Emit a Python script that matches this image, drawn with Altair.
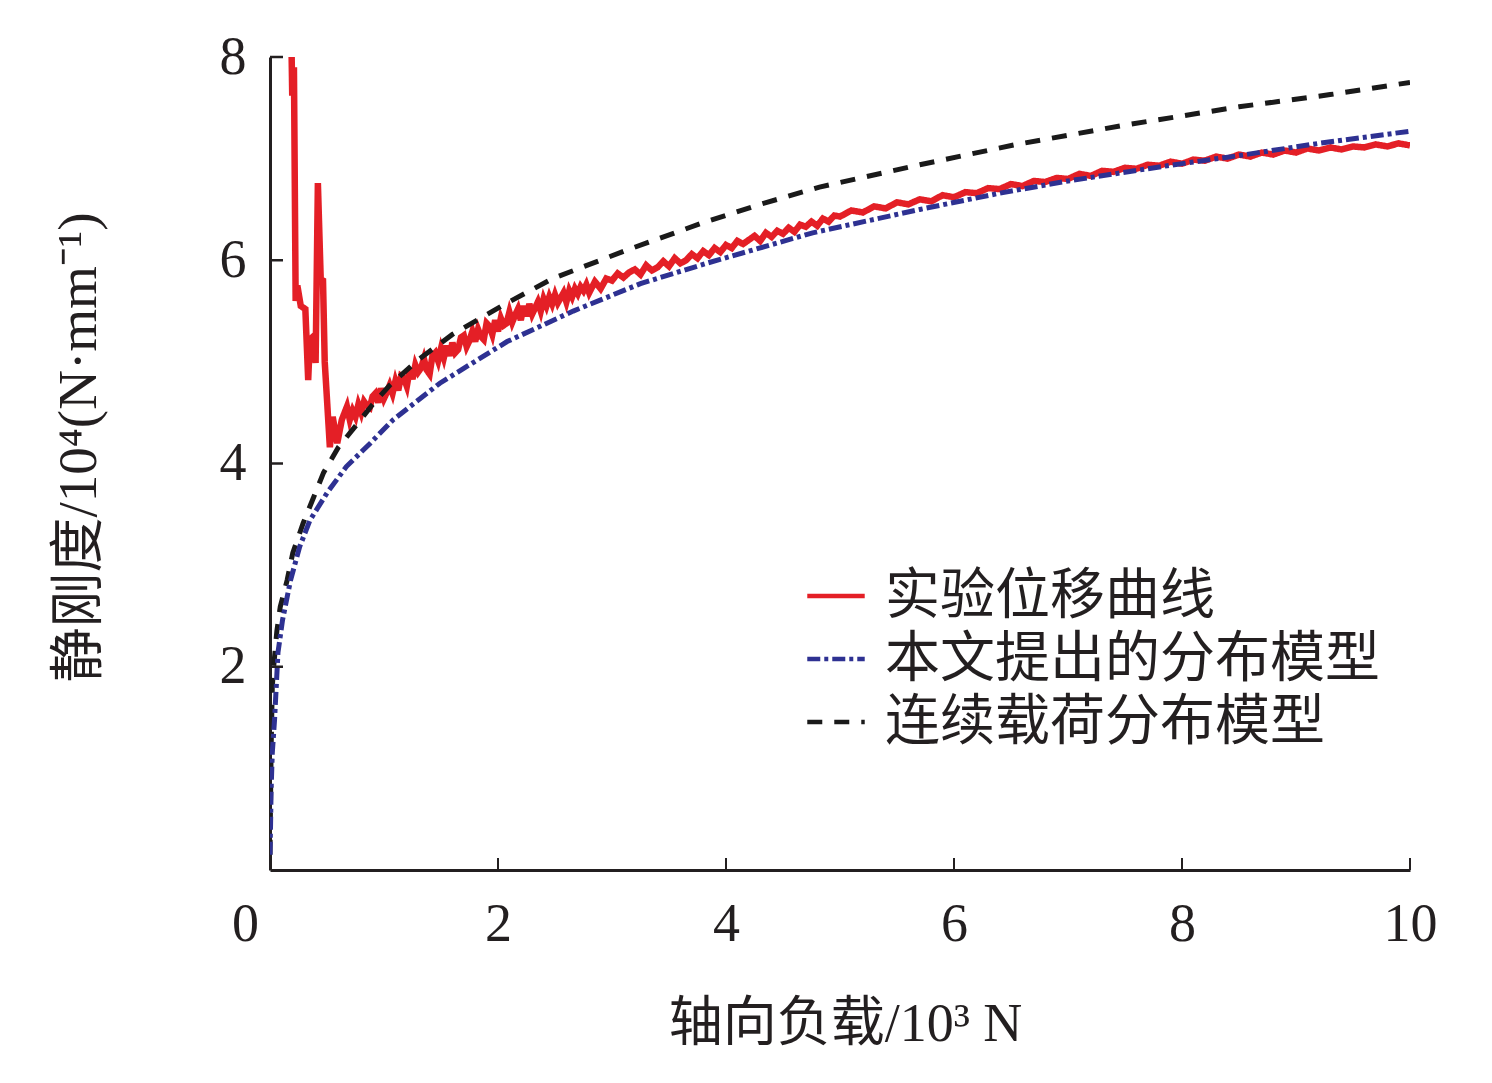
import altair as alt
import pandas as pd

# ---- data ----
series_names = ["实验位移曲线", "本文提出的分布模型", "连续载荷分布模型"]

# experimental curve (noisy)
exp_x = [0.19, 0.195, 0.21, 0.225, 0.24, 0.27, 0.31, 0.335, 0.35, 0.38, 0.40, 0.42, 0.445, 0.465, 0.48, 0.50, 0.525, 0.55, 0.59, 0.63, 0.675,
         0.700, 0.725, 0.750, 0.775, 0.800, 0.825, 0.850, 0.875, 0.900, 0.925, 0.950, 0.975, 1.000, 1.025, 1.050, 1.075,
         1.100, 1.125, 1.150, 1.175, 1.200, 1.225, 1.250, 1.275, 1.300, 1.325, 1.350, 1.375, 1.400, 1.425, 1.450, 1.475,
         1.500, 1.525, 1.550, 1.575, 1.600, 1.625, 1.650, 1.675, 1.700, 1.725, 1.750, 1.775, 1.800, 1.825, 1.850, 1.875,
         1.900, 1.925, 1.950, 1.975, 2.000, 2.025, 2.050, 2.075, 2.100, 2.125, 2.150, 2.175, 2.200, 2.225, 2.250, 2.275,
         2.300, 2.325, 2.350, 2.375, 2.400, 2.425, 2.450, 2.475, 2.500, 2.525, 2.550, 2.575, 2.600, 2.625, 2.650, 2.675,
         2.700, 2.725, 2.750, 2.775, 2.800, 2.850, 2.900, 2.950, 3.000,
         3.05, 3.10, 3.15, 3.20, 3.25, 3.30, 3.35, 3.40, 3.45, 3.50, 3.55, 3.60, 3.65, 3.70, 3.75, 3.80, 3.85, 3.90, 3.95, 4.00,
         4.05, 4.10, 4.15, 4.20, 4.25, 4.30, 4.35, 4.40, 4.45, 4.50, 4.55, 4.60, 4.65, 4.70, 4.75, 4.80, 4.85, 4.90, 4.95, 5.00,
         5.10, 5.20, 5.30, 5.40, 5.50, 5.60, 5.70, 5.80, 5.90, 6.00, 6.10, 6.20, 6.30, 6.40,
         6.50, 6.60, 6.70, 6.80, 6.90, 7.00, 7.10, 7.20, 7.30, 7.40, 7.50, 7.60, 7.70, 7.80, 7.90, 8.00, 8.10, 8.20, 8.30, 8.40,
         8.50, 8.60, 8.70, 8.80, 8.90, 9.00, 9.10, 9.20, 9.30, 9.40, 9.50, 9.60, 9.70, 9.80, 9.90, 10.00]
exp_y = [8.00, 7.62, 7.90, 5.60, 5.75, 5.55, 5.52, 4.82, 5.22, 5.25, 4.99, 6.76, 5.81, 5.80, 5.00, 4.63, 4.16, 4.46, 4.20, 4.43, 4.56,
         4.43, 4.52, 4.46, 4.58, 4.50, 4.61, 4.57, 4.55, 4.66, 4.69, 4.60, 4.74, 4.64, 4.70, 4.77, 4.69,
         4.81, 4.72, 4.86, 4.84, 4.76, 4.92, 4.83, 4.97, 4.90, 4.94, 5.03, 4.92, 4.88, 5.06, 5.09, 5.01,
         5.13, 5.04, 5.16, 5.06, 5.19, 5.09, 5.12, 5.24, 5.26, 5.15, 5.21, 5.30, 5.20, 5.32, 5.25, 5.22,
         5.38, 5.35, 5.27, 5.41, 5.30, 5.43, 5.36, 5.38, 5.49, 5.39, 5.46, 5.52, 5.41, 5.55, 5.45, 5.57,
         5.47, 5.53, 5.59, 5.50, 5.62, 5.55, 5.64, 5.57, 5.66, 5.58, 5.63, 5.68, 5.59, 5.70, 5.64, 5.72,
         5.67, 5.74, 5.70, 5.76, 5.68, 5.79, 5.72, 5.82, 5.80,
         5.87, 5.83, 5.88, 5.91, 5.86, 5.95, 5.90, 5.93, 5.99, 5.94, 6.02, 5.97, 6.00, 6.06, 6.02, 6.09, 6.05, 6.12, 6.08, 6.15,
         6.12, 6.19, 6.16, 6.20, 6.24, 6.19, 6.27, 6.23, 6.29, 6.26, 6.32, 6.28, 6.35, 6.33, 6.38, 6.34, 6.41, 6.38, 6.44, 6.43,
         6.49, 6.47, 6.53, 6.51, 6.57, 6.55, 6.60, 6.58, 6.64, 6.62, 6.67, 6.66, 6.71, 6.70,
         6.75, 6.73, 6.78, 6.77, 6.81, 6.80, 6.85, 6.83, 6.88, 6.87, 6.91, 6.90, 6.94, 6.93, 6.97, 6.95, 6.99, 6.98, 7.02, 7.00,
         7.04, 7.02, 7.06, 7.04, 7.08, 7.06, 7.10, 7.08, 7.11, 7.09, 7.12, 7.11, 7.14, 7.12, 7.15, 7.13]

# proposed distribution model
prop_x = [0.0, 0.005, 0.01, 0.02, 0.04, 0.07, 0.11, 0.18, 0.26, 0.35, 0.50, 0.67, 0.88, 1.08, 1.49, 2.08, 2.66, 3.25, 3.83,
          4.76, 5.70, 6.40, 7.00, 7.87, 8.50, 9.20, 10.0]
prop_y = [0.15, 0.45, 0.80, 1.15, 1.48, 2.14, 2.46, 2.85, 3.18, 3.44, 3.71, 3.97, 4.20, 4.43, 4.79, 5.20, 5.50, 5.77, 5.97,
          6.27, 6.50, 6.66, 6.78, 6.93, 7.03, 7.15, 7.27]

# continuous load distribution model
cont_x = [0.0, 0.005, 0.01, 0.02, 0.03, 0.06, 0.09, 0.15, 0.20, 0.29, 0.38, 0.47, 0.60, 0.73, 0.90, 1.05, 1.30, 1.60, 2.08,
          2.48, 3.13, 3.80, 4.30, 4.82, 5.70, 6.55, 7.50, 8.50, 9.30, 10.0]
cont_y = [0.15, 0.70, 1.20, 1.80, 1.97, 2.35, 2.59, 2.85, 3.12, 3.41, 3.66, 3.91, 4.16, 4.34, 4.58, 4.77, 5.02, 5.27, 5.58,
          5.82, 6.10, 6.37, 6.55, 6.72, 6.94, 7.14, 7.33, 7.51, 7.63, 7.75]

x_labels = [0, 2, 4, 6, 8, 10]
x_ticks = [2, 4, 6, 8, 10]
y_ticks = [2, 4, 6, 8]

x_title = "轴向负载/10³ N"
y_title = "静刚度/10⁴(N·mm⁻¹)"

# ---- build table ----
rows = []
for xs, ys, name in [(exp_x, exp_y, series_names[0]), (prop_x, prop_y, series_names[1]), (cont_x, cont_y, series_names[2])]:
    for i, (a, b) in enumerate(zip(xs, ys)):
        rows.append({"x": a, "y": b, "s": name, "i": i})
df = pd.DataFrame(rows)

W, H = 1140, 813
FONT = "Liberation Serif, Noto Sans CJK SC"
INK = "#231f20"

xscale = alt.Scale(domain=[0, 10], nice=False, zero=False)
yscale = alt.Scale(domain=[0, 8], nice=False, zero=False)

legend_kw = dict(orient="none", legendX=535, legendY=508, symbolType="stroke",
                 symbolSize=3300, symbolStrokeWidth=4.5, labelFontSize=55,
                 labelFont=FONT, labelColor=INK, labelOffset=18, rowPadding=4,
                 labelLimit=800)
color = alt.Color("s:N", title=None,
                  scale=alt.Scale(domain=series_names, range=["#e41f26", "#2e3192", "#1a1a1a"]),
                  legend=alt.Legend(**legend_kw))
dash = alt.StrokeDash("s:N", title=None,
                      scale=alt.Scale(domain=series_names, range=[[1, 0], [13, 4, 4, 4], [15, 12]]),
                      legend=alt.Legend(**legend_kw))

xaxis = alt.Axis(values=x_labels, ticks=False, grid=False, labelFontSize=54, labelFont=FONT,
                 labelColor=INK, labelPadding=27, labelFlush=False, domainColor=INK, domainWidth=3,
                 labelOffset=alt.condition("datum.value == 0", alt.value(-25), alt.value(0)),
                 title=x_title, titleFontSize=54, titleFont=FONT, titleFontWeight="normal", titleColor=INK,
                 titleX=575, titleY=170, titleBaseline="alphabetic")
yaxis = alt.Axis(values=y_ticks, ticks=False, grid=False, labelFontSize=54, labelFont=FONT,
                 labelColor=INK, labelPadding=24, labelFlush=False, domainColor=INK, domainWidth=3,
                 title=y_title, titleFontSize=55, titleFont=FONT, titleFontWeight="normal", titleColor=INK,
                 titleX=-192, titleY=390, titleBaseline="middle", titleAlign="center", titleAngle=270)

def line_layer(name, sw):
    return alt.Chart(df).transform_filter(alt.datum.s == name).mark_line(strokeWidth=sw, clip=True).encode(
        x=alt.X("x:Q", scale=xscale, axis=xaxis, title=x_title),
        y=alt.Y("y:Q", scale=yscale, axis=yaxis, title=y_title),
        color=color, strokeDash=dash, order="i:Q")

ytick_layer = alt.Chart(pd.DataFrame({"y": y_ticks})).mark_rule(color=INK, strokeWidth=2.5).encode(
    y=alt.Y("y:Q", scale=yscale, axis=yaxis, title=y_title), x=alt.value(0), x2=alt.value(13))
xtick_layer = alt.Chart(pd.DataFrame({"x": x_ticks})).mark_rule(color=INK, strokeWidth=2).encode(
    x=alt.X("x:Q", scale=xscale, axis=xaxis, title=x_title), y=alt.value(H), y2=alt.value(H - 12))

chart = alt.layer(
    line_layer(series_names[0], 6.5), line_layer(series_names[2], 5), line_layer(series_names[1], 5),
    ytick_layer, xtick_layer
).properties(
    width=W, height=H, autosize=alt.AutoSizeParams(type="none"),
    padding={"left": 262, "top": 49, "right": 74, "bottom": 205}
).configure(background="white").configure_view(stroke=None)

chart.save("out.html", embed_options={"renderer": "svg", "actions": False})
